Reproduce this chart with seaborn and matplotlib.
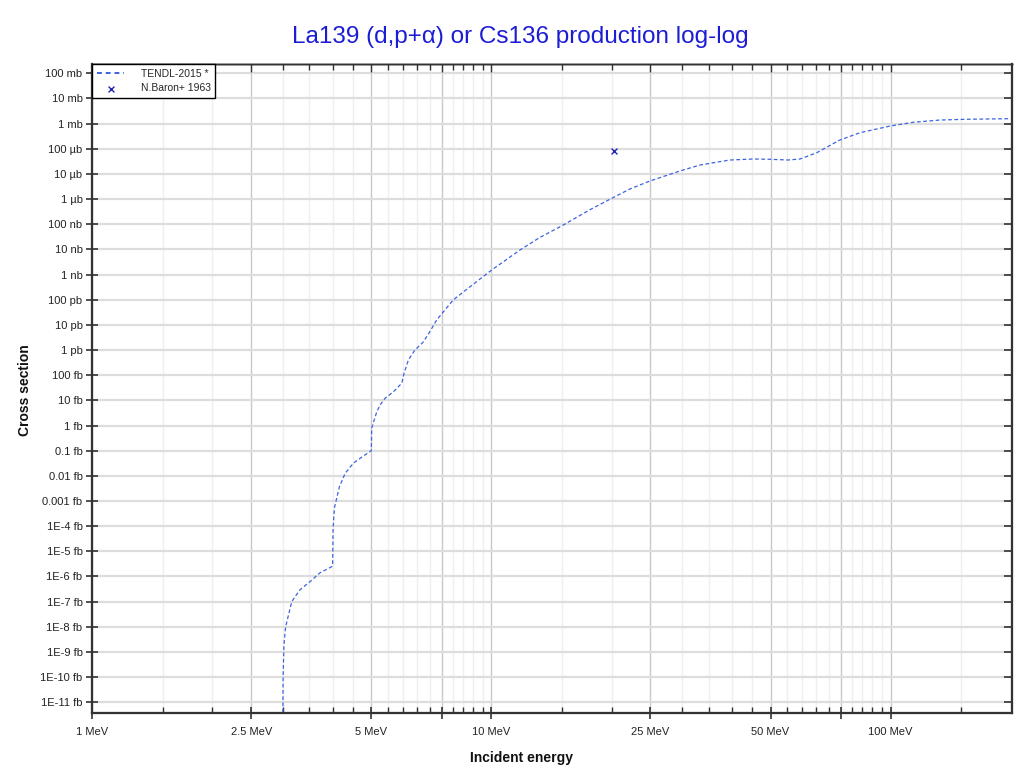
import numpy as np
import pandas as pd
import matplotlib
matplotlib.use("Agg")
import matplotlib.pyplot as plt
import seaborn as sns

# ---- data (energy in MeV, cross section in mb) ----
tendl_energy = [1.0, 2.99, 3.005, 3.02, 3.05, 3.16, 3.31, 3.51, 3.72, 3.97, 4.0,
                4.01, 4.04, 4.16, 4.30, 4.51, 4.78, 4.98, 5.0,
                5.01, 5.16, 5.26, 5.41, 5.68, 5.96,
                6.04, 6.19, 6.43, 6.75, 7.01, 7.29, 8.02, 8.84,
                10.0, 11.79, 13.2, 15.13, 17.6, 20.0, 22.2, 24.9, 27.2, 29.7, 33.3, 37.4, 39.6,
                45.3, 49.9, 55.4, 59.3, 65.3, 74.6, 83.8, 99.6, 113.9,
                132.9, 155.0, 199.0]
tendl_xs = [1e-30, 1e-30, 7.8e-23, 1.9e-21, 1.0e-20, 1.0e-19, 2.9e-19, 6.2e-19, 1.4e-18, 2.4e-18, 2.6e-18,
            7.1e-17, 5.2e-16, 3.7e-15, 1.26e-14, 3.2e-14, 6.2e-14, 9.5e-14, 1.0e-13,
            7.9e-13, 3.5e-12, 6.6e-12, 1.2e-11, 2.2e-11, 4.8e-11,
            1.2e-10, 4.0e-10, 1.0e-9, 2.1e-9, 5.4e-9, 1.57e-8, 9.8e-8, 3.3e-7,
            1.5e-6, 9.5e-6, 2.95e-5, 9.3e-5, 3.7e-4, 1.07e-3, 2.5e-3, 5.2e-3, 8.3e-3, 0.0132, 0.0226, 0.0309, 0.0358,
            0.0393, 0.0382, 0.0358, 0.0393, 0.0698, 0.223, 0.436, 0.80, 1.13,
            1.39, 1.49, 1.57]

baron_energy = [20.3]
baron_xs = [0.08]

series_names = ["TENDL-2015 *", "N.Baron+ 1963"]
title_text = "La139 (d,p+\u03b1) or Cs136 production log-log"
x_label = "Incident energy"
y_label = "Cross section"

x_major = [1, 2.5, 5, 7.5, 10, 25, 50, 75, 100]
x_major_labels = ["1 MeV", "2.5 MeV", "5 MeV", "", "10 MeV", "25 MeV", "50 MeV", "", "100 MeV"]
x_minor = [1.5, 2, 3, 3.5, 4, 4.5, 5.5, 6, 6.5, 7, 8, 8.5, 9, 9.5,
           15, 20, 30, 35, 40, 45, 55, 60, 65, 70, 80, 85, 90, 95, 150]

y_exponents = list(range(2, -24, -1))
y_labels = ["100 mb", "10 mb", "1 mb", "100 \u00b5b", "10 \u00b5b", "1 \u00b5b",
            "100 nb", "10 nb", "1 nb", "100 pb", "10 pb", "1 pb",
            "100 fb", "10 fb", "1 fb", "0.1 fb", "0.01 fb", "0.001 fb",
            "1E-4 fb", "1E-5 fb", "1E-6 fb", "1E-7 fb", "1E-8 fb", "1E-9 fb",
            "1E-10 fb", "1E-11 fb"]

# ---- style ----
sns.set_theme(style="white")
plt.rcParams["font.family"] = ["Liberation Sans", "DejaVu Sans"]

fig = plt.figure(figsize=(10.2, 7.74), dpi=100)
ax = fig.add_axes([92.3 / 1020, 1 - 713.3 / 774, (1011.7 - 92.3) / 1020, (713.3 - 64) / 774])

df_t = pd.DataFrame({"E": tendl_energy, "xs": tendl_xs})
df_b = pd.DataFrame({"E": baron_energy, "xs": baron_xs})

sns.lineplot(data=df_t, x="E", y="xs", ax=ax, sort=False, estimator=None,
             color="#3d63e0", lw=0.9, linestyle=(0, (3, 2)), label=series_names[0], zorder=3)
sns.scatterplot(data=df_b, x="E", y="xs", ax=ax, marker="x", s=18, color="#2323b8",
                linewidth=1.0, label=series_names[1], zorder=4)

xlim = (1, 201)
ylim = (10 ** -23.44, 10 ** 2.37)
ax.set_xscale("log")
ax.set_yscale("log")
ax.set_xlim(*xlim)
ax.set_ylim(*ylim)

yt = [10.0 ** e for e in y_exponents]
ax.set_xticks(x_major)
ax.set_xticklabels(x_major_labels)
ax.set_xticks(x_minor, minor=True)
ax.set_xticklabels([], minor=True)
ax.set_yticks(yt)
ax.set_yticklabels(y_labels)
ax.yaxis.set_minor_locator(matplotlib.ticker.NullLocator())

ax.grid(True, which="major", axis="x", color="#c8c8c8", lw=1.0)
ax.grid(True, which="minor", axis="x", color="#efefef", lw=1.0)
ax.grid(True, which="major", axis="y", color="#dddddd", lw=1.6)
ax.set_axisbelow(True)

ax.tick_params(axis="both", which="major", labelsize=8, labelcolor="#222222",
               color="#333333", width=1.2)
ax.tick_params(axis="x", which="major", direction="inout", length=8, bottom=True, top=False, pad=6)
ax.tick_params(axis="x", which="minor", direction="in", length=4, bottom=True, top=False,
               width=1.0, color="#333333")
ax.tick_params(axis="y", which="major", direction="inout", length=8, left=True, right=False, pad=3)

# inward ticks on the top frame
axt = ax.twiny()
axt.set_xscale("log")
axt.set_xlim(*xlim)
axt.set_xticks(x_major)
axt.set_xticklabels([""] * len(x_major))
axt.set_xticks(x_minor, minor=True)
axt.set_xticklabels([], minor=True)
axt.tick_params(axis="x", which="major", direction="in", length=6, width=1.0,
                color="#333333", top=True, bottom=False, labeltop=False)
axt.tick_params(axis="x", which="minor", direction="in", length=4, width=1.0,
                color="#333333", top=True, bottom=False, labeltop=False)
axt.grid(False)

# inward ticks on the right frame
axr = ax.twinx()
axr.set_yscale("log")
axr.set_ylim(*ylim)
axr.set_yticks(yt)
axr.set_yticklabels([""] * len(yt))
axr.yaxis.set_minor_locator(matplotlib.ticker.NullLocator())
axr.tick_params(axis="y", which="major", direction="in", length=6, width=1.2,
                color="#333333", right=True, left=False, labelright=False)
axr.grid(False)

for a in (ax, axt, axr):
    for side, sp in a.spines.items():
        sp.set_visible(True)
        sp.set_color("#333333")
        sp.set_linewidth(1.5 if side in ("left", "bottom", "right") else 1.0)

ax.set_xlabel("")
ax.set_ylabel("")
fig.text(522 / 1020, 1 - 758 / 774, x_label, ha="center", va="center",
         fontsize=10, fontweight="bold", color="#111111")
fig.text(25 / 1020, 1 - 390 / 774, y_label, ha="center", va="center", rotation=90,
         fontsize=10, fontweight="bold", color="#111111")
fig.text(520 / 1020, 1 - 37 / 774, title_text, ha="center", va="center",
         fontsize=17.5, color="#1c1cd4")

leg = ax.legend(loc="upper left", borderaxespad=0, fontsize=7.5, frameon=True,
                fancybox=False, edgecolor="#000000", handlelength=2.6,
                handletextpad=1.6, borderpad=0.45, labelspacing=0.45)
leg.get_frame().set_linewidth(1.0)
leg.get_frame().set_alpha(1)
for h in leg.legend_handles:
    if h.__class__.__name__ == "Line2D":
        h.set_linestyle((0, (2.5, 2.0)))
        h.set_linewidth(1.4)
leg.remove()
axr.add_artist(leg)

fig.savefig("out.png", dpi=100)
